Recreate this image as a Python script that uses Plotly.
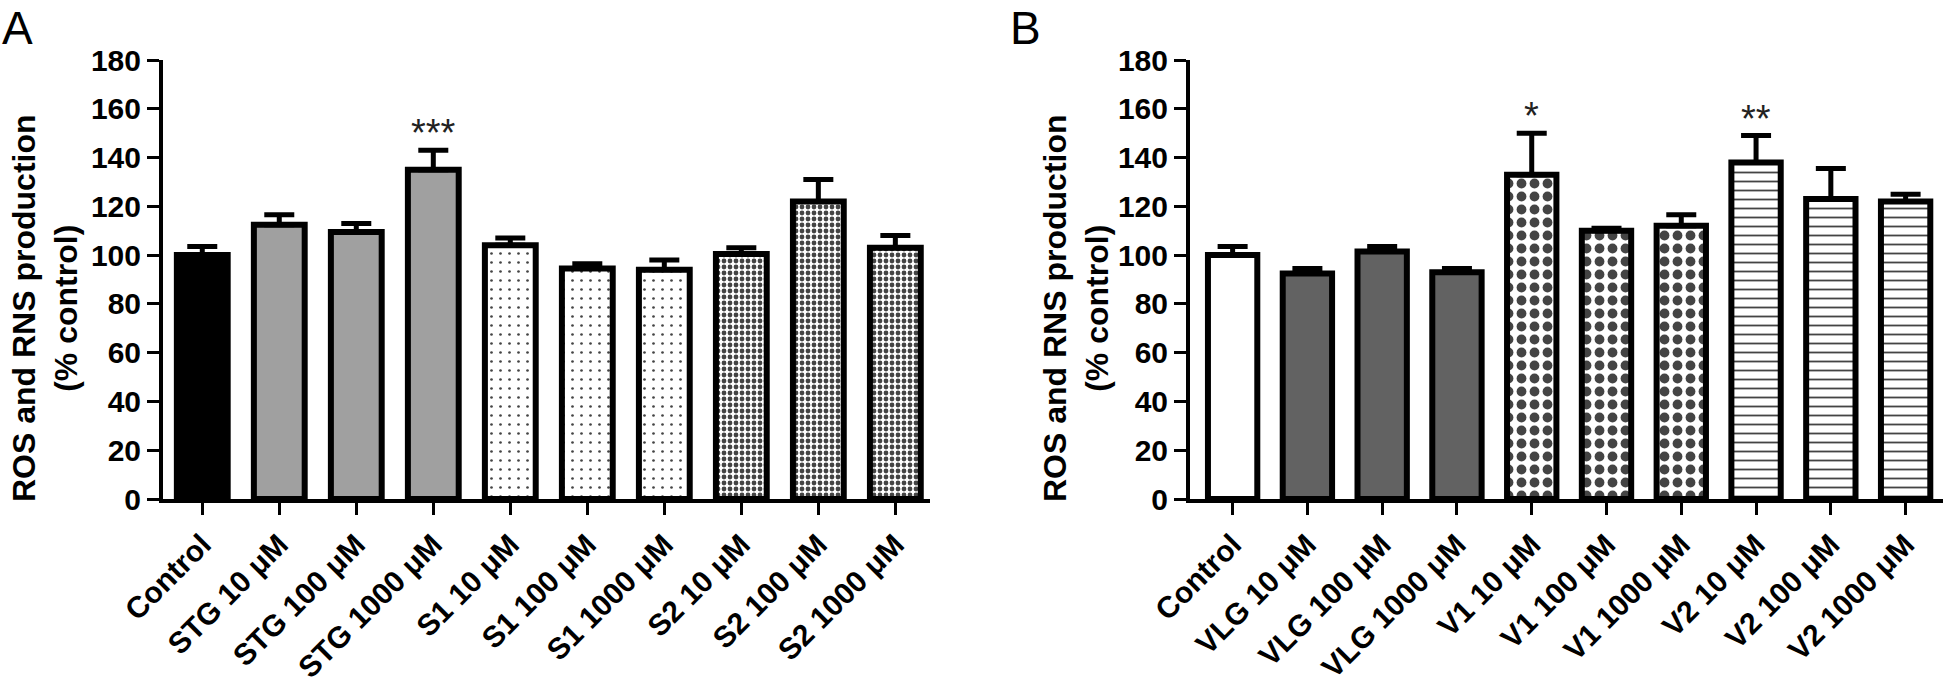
import plotly.graph_objects as go

# ---------------- data ----------------
cats_a = ["Control", "STG 10 μM", "STG 100 μM", "STG 1000 μM", "S1 10 μM",
          "S1 100 μM", "S1 1000 μM", "S2 10 μM", "S2 100 μM", "S2 1000 μM"]
vals_a = [100, 112.5, 109.5, 135, 104, 94.5, 94, 100.5, 122, 103]
err_a = [3.5, 4, 3.5, 8, 3, 2, 4, 2.5, 9, 5]
sig_a = ["", "", "", "***", "", "", "", "", "", ""]

cats_b = ["Control", "VLG 10 μM", "VLG 100 μM", "VLG 1000 μM", "V1 10 μM",
          "V1 100 μM", "V1 1000 μM", "V2 10 μM", "V2 100 μM", "V2 1000 μM"]
vals_b = [100, 92.5, 101.5, 93, 133, 110, 112, 138, 123, 122]
err_b = [3.5, 2, 2, 1.5, 17, 1, 4.5, 11, 12.5, 3]
sig_b = ["", "", "", "", "*", "", "", "**", "", ""]

y_ticks = [0, 20, 40, 60, 80, 100, 120, 140, 160, 180]

# ---------------- styles ----------------
color_a = ["#000000", "#a0a0a0", "#a0a0a0", "#a0a0a0", "white", "white", "white", "white", "white", "white"]
shape_a = ["", "", "", "", ".", ".", ".", ".", ".", "."]
psize_a = [8, 8, 8, 8, 9, 9, 9, 6, 6, 6]
psol_a = [0.3, 0.3, 0.3, 0.3, 0.07, 0.07, 0.07, 0.5, 0.5, 0.5]

color_b = ["white", "#626262", "#626262", "#626262", "white", "white", "white", "white", "white", "white"]
shape_b = ["", "", "", "", ".", ".", ".", "-", "-", "-"]
psize_b = [8, 8, 8, 8, 13, 13, 13, 9, 9, 9]
psol_b = [0.3, 0.3, 0.3, 0.3, 0.45, 0.45, 0.45, 0.2, 0.2, 0.2]

FONT = "Liberation Sans, Arial, sans-serif"
W, H = 1946, 693

fig = go.Figure()


def add_panel(cats, vals, errs, colors, shapes, psizes, psols, xa, ya):
    fig.add_trace(go.Bar(
        x=list(range(len(cats))), y=vals, width=0.66,
        marker=dict(color=colors, line=dict(color="black", width=6),
                    pattern=dict(shape=shapes, size=psizes, solidity=psols,
                                 fgcolor="black", fgopacity=1, fillmode="overlay")),
        error_y=dict(type="data", array=errs, arrayminus=[0] * len(errs),
                     symmetric=False, color="black", thickness=5, width=15),
        xaxis=xa, yaxis=ya, showlegend=False, hoverinfo="skip"))


add_panel(cats_a, vals_a, err_a, color_a, shape_a, psize_a, psol_a, "x", "y")
add_panel(cats_b, vals_b, err_b, color_b, shape_b, psize_b, psol_b, "x2", "y2")

ydom = [(H - 499) / H, (H - 60) / H]
xdom_a = [163 / W, 930 / W]
xdom_b = [1190 / W, 1943 / W]

tickfont = dict(family=FONT, size=30, color="black", weight="bold")
xtickfont = dict(family=FONT, size=30, color="black", weight="bold")

common_x = dict(showline=True, linewidth=4, linecolor="black", ticks="outside",
                ticklen=12, tickwidth=3, tickcolor="black", tickangle=-45,
                showgrid=False, zeroline=False, tickfont=xtickfont, automargin=False)
common_y = dict(showline=True, linewidth=4, linecolor="black", ticks="outside",
                ticklen=12, tickwidth=3, tickcolor="black", range=[0, 180],
                tickvals=y_ticks, ticktext=[str(v) for v in y_ticks],
                showgrid=False, zeroline=False, tickfont=tickfont, domain=ydom,
                automargin=False)

fig.update_layout(
    width=W, height=H, margin=dict(l=0, r=0, t=0, b=0, autoexpand=False),
    plot_bgcolor="white", paper_bgcolor="white", bargap=0.3,
    xaxis=dict(domain=xdom_a, range=[-0.51, 9.45], tickvals=list(range(10)),
               ticktext=cats_a, anchor="y", **common_x),
    yaxis=dict(anchor="x", **common_y),
    xaxis2=dict(domain=xdom_b, range=[-0.57, 9.5], tickvals=list(range(10)),
                ticktext=cats_b, anchor="y2", **common_x),
    yaxis2=dict(anchor="x2", **common_y),
)

annotations = []
for xa, ya, vals, errs, sigs in [("x", "y", vals_a, err_a, sig_a), ("x2", "y2", vals_b, err_b, sig_b)]:
    for i, (v, e, s) in enumerate(zip(vals, errs, sigs)):
        if s:
            annotations.append(dict(x=i, y=v + e, xref=xa, yref=ya, text=s, showarrow=False,
                                    yanchor="bottom", yshift=-6,
                                    font=dict(family=FONT, size=38, color="#222")))

ytitle = "ROS and RNS production<br>(% control)"
for xc in [45, 1076]:
    annotations.append(dict(x=xc / W, y=(H - 308) / H, xref="paper", yref="paper",
                            text=ytitle, textangle=-90, showarrow=False,
                            xanchor="center", yanchor="middle",
                            font=dict(family=FONT, size=32, color="black", weight="bold")))

for txt, xl in [("A", 0), ("B", 1008)]:
    annotations.append(dict(x=xl / W, y=1, xref="paper", yref="paper", text=txt,
                            showarrow=False, xanchor="left", yanchor="top", yshift=0,
                            font=dict(family=FONT, size=46, color="black")))

fig.update_layout(annotations=annotations)
fig.write_html("out.html", config={"displayModeBar": False},
               post_script="document.body.style.margin='0';document.body.style.overflow='hidden';")
